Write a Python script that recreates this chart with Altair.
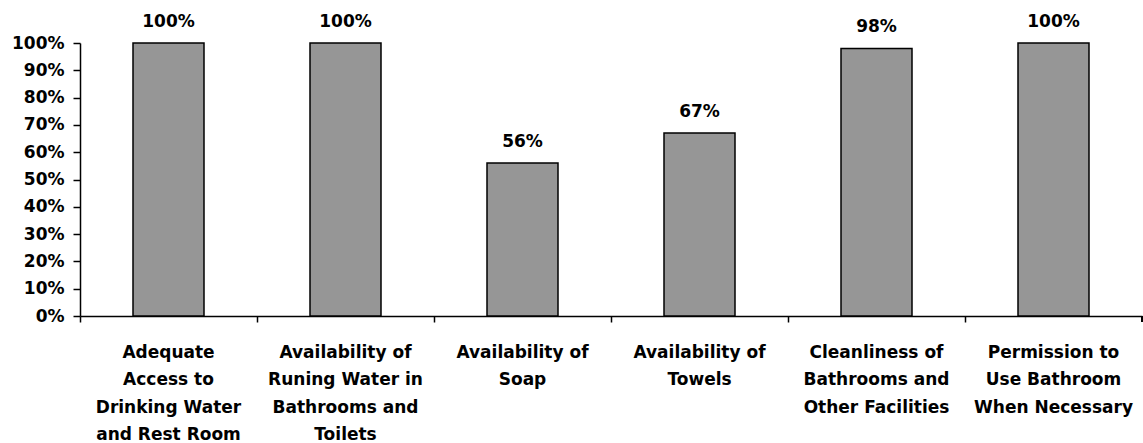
import altair as alt
import pandas as pd

categories = [
    "Adequate\nAccess to\nDrinking Water\nand Rest Room",
    "Availability of\nRuning Water in\nBathrooms and\nToilets",
    "Availability of\nSoap",
    "Availability of\nTowels",
    "Cleanliness of\nBathrooms and\nOther Facilities",
    "Permission to\nUse Bathroom\nWhen Necessary",
]
values = [1.00, 1.00, 0.56, 0.67, 0.98, 1.00]
y_ticks = [0, 0.1, 0.2, 0.3, 0.4, 0.5, 0.6, 0.7, 0.8, 0.9, 1.0]

df = pd.DataFrame({"category": categories, "value": values})

FONT = "DejaVu Sans"
FS = 17
W = 1062
H = 273

x_enc = alt.X(
    "category:N",
    sort=None,
    scale=alt.Scale(paddingInner=0, paddingOuter=0),
    axis=alt.Axis(
        title=None,
        bandPosition=0,
        domain=True,
        domainColor="black",
        domainWidth=1.5,
        ticks=True,
        tickColor="black",
        tickWidth=1.5,
        tickSize=6,
        labelAngle=0,
        labelFont=FONT,
        labelFontSize=FS,
        labelFontWeight="bold",
        labelColor="black",
        labelLineHeight=27.5,
        labelPadding=22,
        labelLimit=0,
        labelOverlap=False,
        labelExpr="split(datum.label, '\\n')",
        grid=False,
    ),
)

y_enc = alt.Y(
    "value:Q",
    scale=alt.Scale(domain=[0, 1], nice=False),
    axis=alt.Axis(
        title=None,
        values=y_ticks,
        tickCount=20,
        format=".0%",
        domain=True,
        domainColor="black",
        domainWidth=1.5,
        ticks=True,
        tickColor="black",
        tickWidth=1.5,
        tickSize=7,
        labelFont=FONT,
        labelFontSize=FS,
        labelFontWeight="bold",
        labelColor="black",
        labelPadding=9,
        labelOverlap=False,
        labelFlush=False,
        grid=False,
    ),
)

base = alt.Chart(df)

bars = base.mark_bar(size=71, color="#969696", stroke="black", strokeWidth=1.5).encode(
    x=x_enc, y=y_enc
)

text = base.mark_text(
    font=FONT, fontSize=FS, fontWeight="bold", color="black", dy=-16, baseline="alphabetic"
).encode(
    x=x_enc,
    y=y_enc,
    text=alt.Text("value:Q", format=".0%"),
)

end_tick = base.mark_rule(color="black", strokeWidth=1.5).encode(
    x=alt.value(W), y=alt.value(H), y2=alt.value(H + 6)
)

chart = (
    alt.layer(bars, text, end_tick)
    .properties(
        width=W,
        height=H,
        autosize=alt.AutoSizeParams(type="none"),
        padding={"left": 80, "top": 43, "right": 1, "bottom": 127},
        background="white",
    )
    .configure_view(stroke=None)
)

chart.save("out.html", embed_options={"renderer": "svg", "actions": False})
